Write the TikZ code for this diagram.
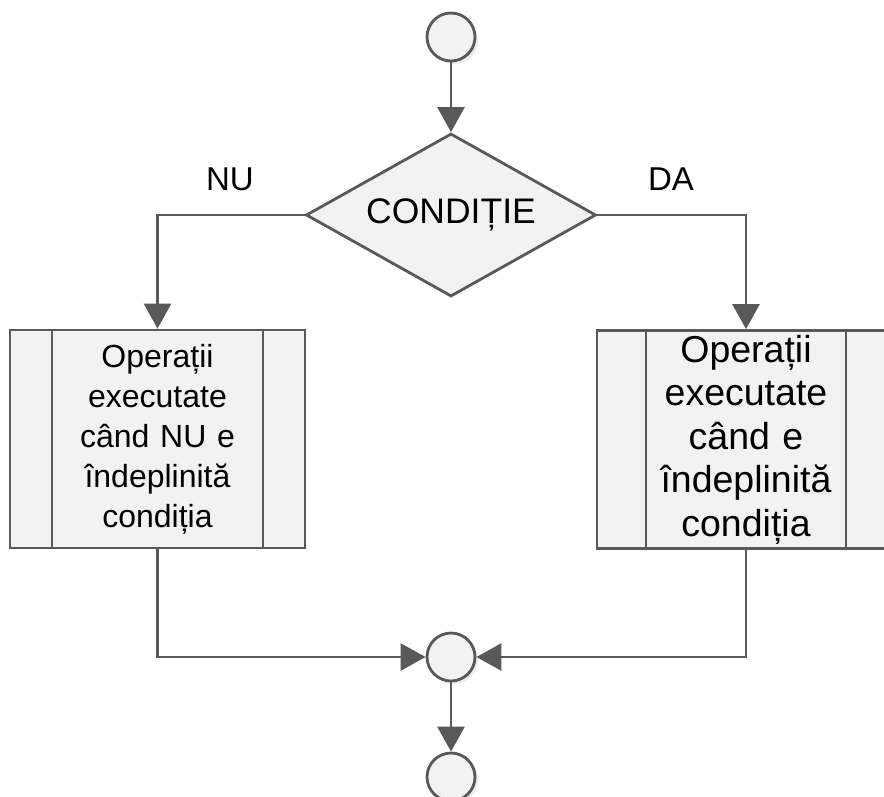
\documentclass[tikz,border=0pt]{standalone}
\usepackage{fontspec}
\setmainfont{Liberation Sans}
\usetikzlibrary{shapes.geometric,shadows,arrows.meta}
\colorlet{flowLine}{black!65}
\colorlet{flowFill}{black!5}
\colorlet{flowShadow}{black!15}

\begin{document}
\begin{tikzpicture}[
  x=1pt,
  y=-1pt,
  connector/.style={
    draw=flowLine,
    line width=2.8pt,
    -{Triangle[width=27pt,length=25pt]},
  },
  terminal/.style={
    circle,
    draw=flowLine,
    line width=2.8pt,
    fill=flowFill,
    minimum size=48pt,
    inner sep=0pt,
    drop shadow={shadow xshift=3pt,shadow yshift=-3pt,fill=flowShadow},
  },
  decision/.style={
    diamond,
    aspect=1.78,
    draw=flowLine,
    line width=2.8pt,
    fill=flowFill,
    minimum width=290pt,
    minimum height=163pt,
    inner sep=0pt,
    font=\fontsize{35.5}{40}\selectfont,
  },
  procbox/.style={
    rectangle,
    draw=flowLine,
    line width=2.8pt,
    fill=flowFill,
    minimum height=218pt,
    inner sep=0pt,
    align=center,
    path picture={
      \draw[flowLine,line width=2.8pt]
        ([xshift=#1]path picture bounding box.north west) -- ([xshift=#1]path picture bounding box.south west)
        ([xshift=-#1]path picture bounding box.north east) -- ([xshift=-#1]path picture bounding box.south east);
    },
  },
  branch/.style={
    font=\fontsize{33}{40}\selectfont,
  },
]
\useasboundingbox (0,0) rectangle (884,796);

\node[terminal] (start) at (451,37) {};
\node[decision] (cond) at (451,215) {CONDIȚIE};
\node[branch] (nu) at (230,179) {NU};
\node[branch] (da) at (671,179) {DA};
\node[procbox=42pt,minimum width=295pt,text width=205pt,font=\fontsize{32}{40}\selectfont]
  (left) at (157.5,439) {Operații\\executate\\când NU e\\îndeplinită\\condiția};
\node[procbox=49pt,minimum width=298pt,text width=200pt,font=\fontsize{37.5}{43.5}\selectfont]
  (right) at (746,439.5) {Operații\\executate\\când e\\îndeplinită\\condiția};
\node[terminal] (merge) at (451,657) {};
\node[terminal] (stop) at (451,777) {};

\draw[connector] (start) -- (cond);
\draw[connector] (cond.west) -| (left);
\draw[connector] (cond.east) -| (right);
\draw[connector] (left) |- (merge);
\draw[connector] (right) |- (merge);
\draw[connector] (merge) -- (stop);
\end{tikzpicture}
\end{document}
